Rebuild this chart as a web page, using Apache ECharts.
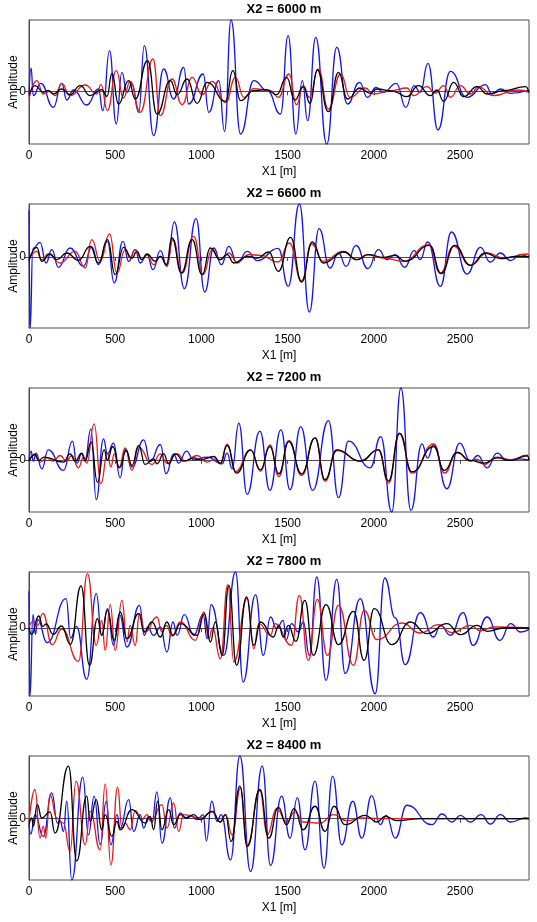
<!DOCTYPE html>
<html>
<head>
<meta charset="utf-8">
<script src="https://cdn.jsdelivr.net/npm/echarts@6/dist/echarts.min.js"></script>
<style>
html,body{margin:0;padding:0;background:#fff;}
#chart{width:537px;height:922px;}
</style>
</head>
<body>
<div id="chart"></div>
<script>
// ---- data ----
const titles = ['X2 = 6000 m', 'X2 = 6600 m', 'X2 = 7200 m', 'X2 = 7800 m', 'X2 = 8400 m'];
const xTickValues = [0, 500, 1000, 1500, 2000, 2500];
const yTickValues = [0];
const xMax = 2900;

// panel X2 = 6000 m
const p1Blue = [[0,-8],[12,70],[25,-13],[68,24],[141,-48],[190,24],[219,-26],[258,4],[335,-41],[403,7],[428,-58],[467,122],[506,-98],[539,57],[568,-3],[597,22],[636,-63],[669,137],[723,-133],[781,67],[839,-23],[897,72],[926,-38],[1010,52],[1043,-63],[1101,32],[1134,-120],[1172,214],[1227,-128],[1304,32],[1382,2],[1459,-68],[1503,167],[1548,-128],[1585,32],[1616,-88],[1663,162],[1727,-158],[1785,132],[1847,-38],[1917,27],[1963,-18],[2014,12],[2056,-3],[2130,24],[2186,-48],[2234,17],[2269,-3],[2314,84],[2372,-116],[2444,60],[2541,-18],[2647,20],[2686,-8],[2734,7],[2793,-6],[2900,4]];
const p1Red = [[0,-23],[45,32],[83,-8],[122,0],[151,-13],[190,24],[238,-13],[326,19],[393,-8],[417,20],[455,-58],[506,62],[548,-20],[587,30],[645,-63],[719,97],[762,-73],[829,37],[888,-40],[946,42],[1004,-10],[1062,30],[1140,-33],[1198,42],[1246,-18],[1304,8],[1401,2],[1446,-18],[1508,52],[1552,-40],[1591,17],[1626,-18],[1678,67],[1736,-53],[1808,52],[1862,-18],[1950,10],[1998,-8],[2095,2],[2192,10],[2231,-13],[2308,14],[2356,-5],[2405,17],[2444,-18],[2502,17],[2560,-8],[2608,14],[2692,-13],[2831,4],[2900,-3]];
const p1Black = [[0,-13],[35,17],[83,-3],[110,3],[141,-8],[190,7],[238,-10],[297,17],[355,-13],[422,5],[452,-15],[481,54],[519,-38],[578,32],[616,-23],[688,92],[742,-68],[820,32],[859,-10],[917,37],[975,-36],[1033,27],[1140,-30],[1182,62],[1227,-28],[1304,2],[1380,5],[1436,-10],[1494,42],[1542,-26],[1591,14],[1630,-36],[1672,64],[1736,-61],[1795,57],[1847,-23],[1920,10],[1978,-6],[2017,7],[2114,0],[2192,-16],[2259,17],[2327,-13],[2366,4],[2405,-30],[2463,27],[2521,-16],[2599,14],[2657,-8],[2754,2],[2880,14],[2900,-3]];

// panel X2 = 6600 m
const p2Blue = [[0,140],[7,-213],[22,25],[64,44],[99,-18],[132,22],[171,-31],[238,27],[316,-28],[364,30],[403,-23],[455,47],[494,-78],[545,47],[578,-13],[616,22],[645,-18],[684,7],[719,-38],[762,19],[800,-28],[843,105],[901,-95],[969,115],[1019,-105],[1072,27],[1116,-23],[1159,32],[1207,-18],[1266,17],[1324,-11],[1445,26],[1504,-88],[1568,159],[1626,-165],[1682,85],[1746,-33],[1795,12],[1839,-28],[1897,35],[1965,-35],[2027,22],[2076,-8],[2124,7],[2179,-31],[2234,19],[2269,-8],[2312,45],[2386,-88],[2450,75],[2541,-51],[2618,29],[2676,-15],[2734,12],[2793,-11],[2851,7],[2900,-3]];
const p2Red = [[0,-8],[45,17],[74,-8],[112,9],[180,-18],[267,17],[326,-33],[364,52],[413,-13],[467,69],[510,-48],[558,22],[587,-3],[616,22],[655,-8],[684,7],[723,-23],[762,2],[800,-23],[835,52],[888,-48],[955,62],[1010,-53],[1062,22],[1110,-8],[1159,12],[1207,-16],[1275,7],[1343,5],[1445,-15],[1510,42],[1581,-71],[1639,39],[1707,-13],[1823,17],[1901,-8],[1959,7],[2056,-3],[2172,-13],[2318,37],[2386,-48],[2463,32],[2560,-25],[2657,12],[2754,-3],[2890,9],[2900,2]];
const p2Black = [[0,-11],[45,29],[74,-13],[122,9],[161,-8],[219,12],[287,-10],[355,32],[403,-18],[455,52],[500,-53],[548,29],[597,-3],[626,17],[655,-8],[684,9],[733,-13],[762,2],[797,-23],[829,57],[884,-48],[946,52],[1004,-53],[1052,27],[1107,-8],[1149,7],[1188,-18],[1266,2],[1324,-3],[1391,15],[1446,-43],[1517,59],[1581,-75],[1643,45],[1707,-18],[1828,15],[1901,-8],[1969,7],[2056,-1],[2124,5],[2182,-13],[2324,35],[2390,-50],[2469,35],[2560,-25],[2647,12],[2734,-5],[2831,2],[2900,1]];

// panel X2 = 7200 m
const p3Blue = [[0,-4],[12,26],[25,-4],[41,20],[74,-27],[112,30],[200,-32],[252,56],[277,-10],[306,18],[326,3],[359,93],[390,-120],[432,63],[455,18],[490,50],[529,-54],[558,33],[597,-22],[665,60],[703,-5],[762,46],[795,-42],[839,18],[868,-10],[913,26],[955,0],[1033,8],[1120,-12],[1149,20],[1178,-27],[1217,110],[1265,-104],[1339,86],[1397,-92],[1461,90],[1514,-90],[1576,100],[1645,-92],[1737,118],[1795,-114],[1853,56],[1979,-24],[2040,70],[2104,-157],[2157,216],[2215,-152],[2279,48],[2312,5],[2347,46],[2424,-87],[2498,50],[2560,-4],[2603,13],[2657,-24],[2715,20],[2773,-2],[2831,3],[2900,0]];
const p3Red = [[0,-4],[35,18],[64,-7],[103,6],[141,-4],[180,13],[219,-4],[248,13],[287,-24],[316,8],[335,-10],[378,108],[417,-72],[455,20],[475,-22],[494,18],[523,-22],[558,36],[597,-32],[636,38],[713,-14],[762,18],[800,-10],[859,18],[907,-4],[975,13],[1033,-7],[1081,3],[1110,-12],[1149,48],[1198,-35],[1285,30],[1343,-35],[1397,45],[1449,-50],[1507,58],[1581,-47],[1659,66],[1717,-64],[1785,28],[1921,-4],[2027,30],[2085,-70],[2149,78],[2221,-40],[2347,48],[2409,-40],[2483,22],[2560,-4],[2599,2],[2638,-14],[2715,8],[2793,0],[2890,14],[2900,0]];
const p3Black = [[0,-4],[35,16],[54,-2],[87,8],[200,-7],[238,18],[267,-4],[306,20],[326,-4],[360,53],[397,-67],[436,30],[455,0],[486,40],[525,-24],[564,28],[597,-17],[636,43],[674,-14],[723,3],[742,-12],[781,18],[810,-12],[849,18],[897,-4],[955,6],[994,0],[1072,10],[1110,-10],[1149,43],[1204,-40],[1285,30],[1343,-30],[1397,40],[1449,-42],[1507,55],[1581,-42],[1659,66],[1717,-60],[1785,30],[1921,-4],[2027,30],[2085,-64],[2149,80],[2221,-36],[2347,40],[2409,-32],[2483,22],[2560,-2],[2638,-10],[2715,6],[2793,-2],[2890,12],[2900,0]];

// panel X2 = 7800 m
const p4Blue = [[0,110],[6,-204],[23,41],[37,-19],[50,26],[105,-44],[215,88],[242,-30],[275,5],[335,-154],[390,103],[422,-22],[455,58],[490,-52],[525,40],[568,-57],[641,68],[669,-22],[688,3],[723,-22],[762,3],[800,-72],[835,18],[859,-22],[901,40],[955,-22],[1010,40],[1033,-32],[1056,70],[1130,-82],[1198,168],[1242,-162],[1314,100],[1359,-82],[1401,33],[1436,-2],[1475,23],[1490,-37],[1523,13],[1562,-12],[1591,18],[1626,-82],[1669,153],[1723,-157],[1785,146],[1834,-137],[1921,88],[2008,-197],[2063,150],[2125,30],[2182,-110],[2269,46],[2347,-27],[2386,8],[2444,-22],[2518,46],[2576,-52],[2657,33],[2731,-37],[2793,13],[2851,-12],[2900,-4]];
const p4Red = [[0,3],[25,20],[50,8],[80,44],[134,-50],[190,-3],[287,-100],[339,163],[390,-52],[422,23],[442,-67],[471,70],[500,-67],[539,83],[568,-42],[587,8],[616,-52],[641,43],[674,-12],[742,33],[771,-12],[797,8],[829,-24],[878,18],[965,-37],[1014,48],[1043,-32],[1065,0],[1110,-92],[1153,130],[1188,-102],[1266,90],[1304,-62],[1333,13],[1401,-22],[1426,13],[1523,-52],[1568,98],[1620,-97],[1672,86],[1731,-82],[1795,68],[1882,-112],[1944,53],[2018,-35],[2163,15],[2269,-15],[2376,10],[2453,-14],[2560,8],[2618,-8],[2696,3],[2900,0]];
const p4Black = [[0,0],[15,-19],[56,36],[80,5],[100,12],[140,-19],[188,6],[240,-49],[302,126],[351,-112],[397,28],[422,-22],[455,53],[494,-37],[529,48],[568,-32],[636,43],[669,-12],[713,18],[762,-27],[800,18],[835,-22],[878,13],[975,-22],[1017,43],[1052,-42],[1081,18],[1120,-82],[1159,128],[1204,-112],[1262,93],[1304,-52],[1343,18],[1417,-27],[1449,8],[1475,-27],[1504,8],[1548,-40],[1600,83],[1649,-82],[1723,70],[1795,-50],[1882,50],[1944,-97],[2002,58],[2105,-50],[2211,18],[2308,-17],[2424,13],[2502,-20],[2599,8],[2657,-10],[2754,0],[2900,0]];

// panel X2 = 8400 m
const p5Blue = [[0,-18],[10,-46],[35,12],[83,-53],[132,77],[165,-13],[180,-6],[200,-38],[219,52],[248,-183],[312,124],[345,-48],[378,67],[413,-78],[448,52],[475,-78],[510,12],[529,-28],[578,57],[607,-38],[645,12],[665,-28],[694,7],[713,-10],[742,80],[771,-73],[820,62],[843,-28],[878,17],[907,2],[936,10],[975,-3],[1010,12],[1029,-66],[1060,52],[1091,-8],[1114,12],[1169,-123],[1223,187],[1285,-158],[1353,157],[1401,-140],[1465,67],[1514,-58],[1556,62],[1601,-93],[1659,112],[1711,-148],[1761,127],[1814,-78],[1878,52],[1930,-58],[1988,69],[2037,-18],[2072,10],[2124,-58],[2192,40],[2337,-18],[2395,14],[2453,-10],[2502,10],[2560,-10],[2622,12],[2676,-16],[2734,12],[2793,-10],[2880,2],[2900,0]];
const p5Red = [[0,-10],[35,87],[64,-58],[83,-23],[97,-58],[122,72],[161,2],[200,-13],[238,-98],[273,112],[326,-78],[355,22],[413,-93],[442,104],[475,-138],[514,94],[539,-28],[558,-13],[587,-33],[616,24],[655,-3],[684,12],[707,-8],[771,42],[800,-28],[839,47],[868,-38],[897,12],[994,2],[1062,20],[1110,-10],[1140,12],[1178,-48],[1227,92],[1266,-78],[1339,84],[1382,-48],[1436,30],[1494,-10],[1543,20],[1591,-10],[1688,-13],[1766,12],[1843,-6],[1940,2],[2076,0],[2900,0]];
const p5Black = [[0,-18],[16,2],[25,-23],[48,42],[74,2],[122,20],[151,-43],[229,157],[277,-126],[335,67],[355,-8],[390,57],[422,-33],[442,12],[481,-53],[510,-8],[529,-33],[597,27],[674,-13],[703,7],[723,-33],[746,52],[771,-33],[810,27],[839,-18],[878,12],[915,2],[955,12],[994,-3],[1062,22],[1110,-10],[1140,12],[1172,-68],[1223,97],[1266,-83],[1339,87],[1391,-58],[1446,34],[1494,-18],[1537,30],[1591,-33],[1659,37],[1717,-38],[1769,37],[1833,-18],[1950,10],[2018,-10],[2066,7],[2134,-6],[2269,0],[2900,0]];

const panels = [
  [p1Blue, p1Red, p1Black],
  [p2Blue, p2Red, p2Black],
  [p3Blue, p3Red, p3Black],
  [p4Blue, p4Red, p4Black],
  [p5Blue, p5Red, p5Black]
];
const traceColors = ['#1414f0', '#e51a1a', '#000000'];

// ---- layout ----
const FONT = 'Liberation Sans, Arial, Helvetica, sans-serif';
const panelStep = 184;
const gridTop = 20;
const gridH = 124;
const axisColor = '#4d4d4d';

const grid = [], xAxis = [], yAxis = [], series = [], title = [];
panels.forEach((traces, i) => {
  const top = gridTop + panelStep * i;
  grid.push({left: 29, right: 8, top: top, height: gridH, show: true,
             containLabel: false, outerBoundsMode: 'none',
             borderColor: axisColor, borderWidth: 1, backgroundColor: 'transparent'});
  title.push({text: titles[i], left: 279, top: top - 22, textAlign: 'center',
              textStyle: {fontFamily: FONT, fontSize: 13, fontWeight: 'bold', color: '#000'}});
  xAxis.push({type: 'value', gridIndex: i, min: 0, max: xMax,
              name: 'X1 [m]', nameLocation: 'middle', nameGap: 22, nameMoveOverlap: false,
              nameTextStyle: {fontFamily: FONT, fontSize: 12, color: '#000'},
              axisLine: {show: true, lineStyle: {color: axisColor}},
              axisTick: {show: true, length: 4, inside: false, customValues: xTickValues, lineStyle: {color: axisColor}},
              axisLabel: {customValues: xTickValues, margin: 6, formatter: v => String(v),
                          fontFamily: FONT, fontSize: 12, color: '#000'},
              splitLine: {show: false}});
  yAxis.push({type: 'value', gridIndex: i, min: 'dataMin', max: 'dataMax',
              name: 'Amplitude', nameLocation: 'middle', nameGap: 9, nameRotate: 90, nameMoveOverlap: false,
              nameTextStyle: {fontFamily: FONT, fontSize: 12, color: '#000'},
              axisLine: {show: true, lineStyle: {color: axisColor}},
              axisTick: {show: true, length: 4, customValues: yTickValues, lineStyle: {color: axisColor}},
              axisLabel: {customValues: yTickValues, margin: 3, formatter: v => String(v),
                          fontFamily: FONT, fontSize: 12, color: '#000'},
              splitLine: {show: false}});
  traces.forEach((data, k) => {
    series.push({type: 'line', xAxisIndex: i, yAxisIndex: i, data: data,
                 showSymbol: false, symbol: 'none', smooth: 0.5, smoothMonotone: 'x',
                 lineStyle: {color: traceColors[k], width: 1.3}, z: 2 + k,
                 animation: false, silent: true});
  });
});

const chart = echarts.init(document.getElementById('chart'), null, {renderer: 'canvas'});
chart.setOption({animation: false, backgroundColor: '#fff', title, grid, xAxis, yAxis, series});
</script>
</body>
</html>
